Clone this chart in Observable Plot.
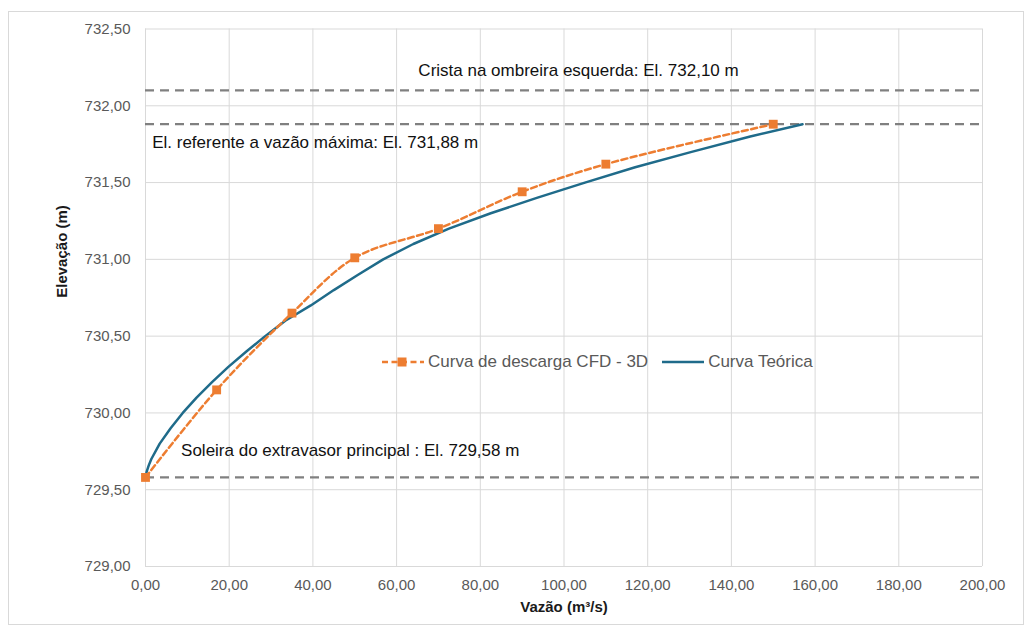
<!DOCTYPE html>
<html>
<head>
<meta charset="utf-8">
<script src="https://cdn.jsdelivr.net/npm/d3@7"></script>
<script src="https://cdn.jsdelivr.net/npm/@observablehq/plot@0.6"></script>
<style>
  html, body { margin: 0; padding: 0; background: #fff; }
  #wrap { position: relative; width: 1031px; height: 634px; font-family: "Liberation Sans", Arial, sans-serif; }
  #frame { position: absolute; left: 8px; top: 11px; width: 1014px; height: 612px; border: 1px solid #d9d9d9; pointer-events: none; }
  #legend { position: absolute; left: 381px; top: 350px; height: 24px; display: flex; align-items: center; font-size: 17px; color: #595959; white-space: nowrap; }
  #legend .item { display: flex; align-items: center; }
  #legend svg { display: block; }
</style>
</head>
<body>
<div id="wrap"><div id="frame"></div><div id="legend"></div></div>
<script>
// ---- data ----
const xTicks = [0, 20, 40, 60, 80, 100, 120, 140, 160, 180, 200];
const yTicks = [729.0, 729.5, 730.0, 730.5, 731.0, 731.5, 732.0, 732.5];

// Curva de descarga CFD - 3D (vazão m³/s, elevação m)
const cfdQ = [0, 17, 35, 50, 70, 90, 110, 150];
const cfdEl = [729.58, 730.15, 730.65, 731.01, 731.20, 731.44, 731.62, 731.88];

// Curva Teórica (vazão m³/s, elevação m)
const teoQ = [0, 0.3, 0.8, 1.4, 3.4, 6.0, 8.9, 12.2, 15.9, 19.8, 24.1, 28.6, 33.4, 39.5, 45.0, 50.8, 56.8, 64.0, 72.5, 82.5, 93.5, 105.0, 117.0, 130.5, 144.5, 157.0];
const teoEl = [729.58, 729.62, 729.66, 729.70, 729.80, 729.90, 730.00, 730.10, 730.20, 730.30, 730.40, 730.50, 730.60, 730.70, 730.80, 730.90, 731.00, 731.10, 731.20, 731.30, 731.40, 731.50, 731.60, 731.70, 731.80, 731.88];

// Reference levels and their labels
const refLevels = [732.10, 731.88, 729.58];
const refLabels = ["Crista na ombreira esquerda: El. 732,10 m", "El. referente a vazão máxima: El. 731,88 m", "Soleira do extravasor principal : El. 729,58 m"];
const refLabelQ = [65.2, 1.6, 8.5];
const refLabelDy = [-20, 18, -27];

const seriesNames = ["Curva de descarga CFD - 3D", "Curva Teórica"];
const xTitle = "Vazão (m³/s)";
const yTitle = "Elevação (m)";

// ---- build ----
const ORANGE = "#ED7D31", BLUE = "#1F6B8A";
const cfd = cfdQ.map((q, i) => ({q, el: cfdEl[i]}));
const teo = teoQ.map((q, i) => ({q, el: teoEl[i]}));
const refs = refLevels.map((el, i) => ({el, label: refLabels[i], q: refLabelQ[i], dy: refLabelDy[i]}));
const fmt = d3.formatLocale({decimal: ",", thousands: ".", grouping: [3], currency: ["", ""]}).format(".2f");

const annotationMarks = refs.map(r => Plot.text([r], {x: "q", y: "el", text: "label", dy: r.dy, textAnchor: "start", lineAnchor: "middle", fontSize: 17, fill: "#111"}));

const chart = Plot.plot({
  width: 1031, height: 634,
  marginLeft: 145, marginRight: 49, marginTop: 28.5, marginBottom: 68,
  style: {fontFamily: "'Liberation Sans', Arial, sans-serif", fontSize: "15px", color: "#595959", background: "transparent"},
  x: {domain: [0, 200]},
  y: {domain: [729, 732.5]},
  marks: [
    Plot.gridX(xTicks, {stroke: "#d9d9d9", strokeOpacity: 1, strokeWidth: 1}),
    Plot.gridY(yTicks, {stroke: "#d9d9d9", strokeOpacity: 1, strokeWidth: 1}),
    Plot.axisX(xTicks, {tickSize: 0, tickPadding: 13, tickFormat: fmt, label: null, fontSize: 15}),
    Plot.axisY(yTicks, {tickSize: 0, tickPadding: 15, tickFormat: fmt, label: null, fontSize: 15}),
    Plot.ruleY(refLevels, {stroke: "#808080", strokeWidth: 2.2, strokeDasharray: "9,6"}),
    Plot.line(teo, {x: "q", y: "el", stroke: BLUE, strokeWidth: 2.5}),
    Plot.line(cfd, {x: "q", y: "el", stroke: ORANGE, strokeWidth: 2.5, strokeDasharray: "6,3.5", curve: "catmull-rom"}),
    Plot.dot(cfd, {x: "q", y: "el", symbol: "square", r: 5, fill: ORANGE}),
    ...annotationMarks,
    Plot.text([yTitle], {frameAnchor: "left", dx: -83, rotate: -90, fontWeight: "bold", fontSize: 15, fill: "#1a1a1a"}),
    Plot.text([xTitle], {frameAnchor: "bottom", dy: 45, fontWeight: "bold", fontSize: 15, fill: "#1a1a1a"})
  ]
});
document.getElementById("wrap").prepend(chart);

// legend
const legend = document.getElementById("legend");
const swatches = [
  `<svg width="47" height="14"><line x1="1" y1="7" x2="43" y2="7" stroke="${ORANGE}" stroke-width="2.5" stroke-dasharray="6,3.5"/><rect x="16.5" y="2.5" width="9" height="9" fill="${ORANGE}"/></svg>`,
  `<svg width="47" height="14"><line x1="1" y1="7" x2="43" y2="7" stroke="${BLUE}" stroke-width="2.5"/></svg>`
];
seriesNames.forEach((name, i) => {
  const it = document.createElement("div");
  it.className = "item";
  it.style.marginRight = i === 0 ? "13px" : "0";
  it.innerHTML = swatches[i] + `<span>${name}</span>`;
  legend.appendChild(it);
});
</script>
</body>
</html>
